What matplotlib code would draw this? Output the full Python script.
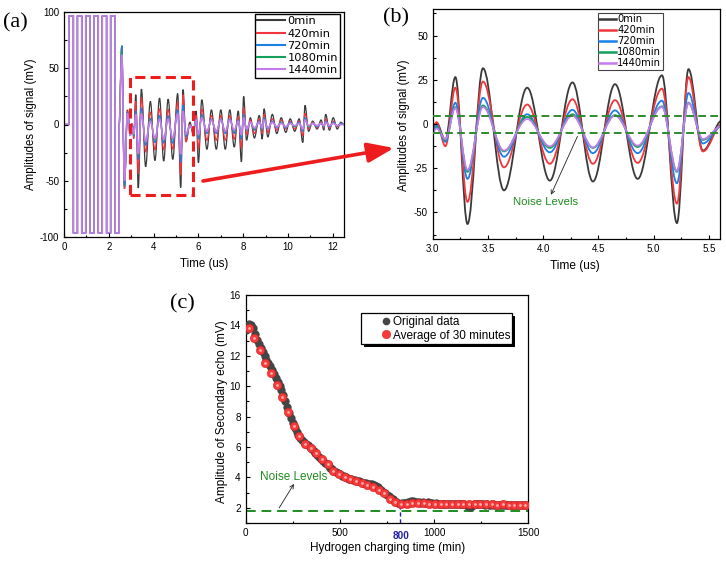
import matplotlib
matplotlib.use('Agg')
import matplotlib.pyplot as plt
from matplotlib.path import Path
from matplotlib.patches import PathPatch, Rectangle, FancyArrowPatch
from matplotlib.lines import Line2D
from matplotlib.ticker import MultipleLocator, FixedLocator
import numpy as np

plt.rcParams['font.family'] = ['Liberation Sans', 'DejaVu Sans']
plt.rcParams['axes.unicode_minus'] = False

# ---------------- data: panels (a) and (b) ----------------
series_names = ['0min', '420min', '720min', '1080min', '1440min']
series_colors = ['#3a3a3a', '#f2363b', '#1a80e6', '#14a05a', '#c47cec']
series_widths_a = [0.9, 0.9, 0.9, 0.9, 1.2]

# excitation square pulse (edges in us, levels in mV)
pulse_edges = [0.22, 0.42, 0.60, 0.79, 0.97, 1.16, 1.34, 1.53, 1.71, 1.90, 2.08, 2.28, 2.46]
pulse_levels = [96.5, -96.5, 96.5, -96.5, 96.5, -96.5, 96.5, -96.5, 96.5, -96.5, 96.5, -96.5]

# echo: times of the waveform extrema (us)
echo_t = [2.46, 2.58, 2.70, 2.83, 2.96,
          3.035, 3.115, 3.205, 3.315, 3.455, 3.645, 3.855, 4.06, 4.265, 4.45, 4.65,
          4.855, 5.075, 5.21, 5.315, 5.445,
          5.62, 5.78, 5.9, 6.0, 6.15, 6.38, 6.58, 6.8, 7.0, 7.2, 7.4, 7.6, 7.78, 7.92,
          8.02, 8.15, 8.32, 8.5, 8.72, 8.85, 8.93, 9.1, 9.3, 9.5, 9.7, 9.9, 10.1, 10.3,
          10.5, 10.66, 10.76, 10.92, 11.1, 11.3, 11.48, 11.6, 11.68, 11.85, 12.02, 12.2,
          12.36, 12.5]

# echo amplitudes at those extrema (mV)
echo_0min = [0, 70, -57, 13, -8,
             0.5, -9, 26.5, -56.5, 31.5, -37.5, 20.5, -32, 23.5, -32.5, 22.5, -31, 27.5, -56, 31, -15,
             2, -10, 12, -34, 22, -22, 13, -22, 13, -22, 13, -20, 12, -33, 25, -14, 6, -12, 8, -13,
             14, -11, 9, -8, 6, -7, 5, -6, 5, -16, 17, -6, 3, -4, 4, -5, 9, -5, 6, -4, 2, 0]
echo_420min = [0, 68, -57, 12, -9,
               1, -12.5, 20.5, -44, 24, -24.5, 11, -22.5, 14, -22.5, 13.5, -22, 20, -45, 26.5, -15.5,
               0, -8, 8, -22, 14, -14, 8, -14, 8, -14, 8, -13, 7, -21, 15, -9, 4, -8, 5, -8,
               9, -7, 5, -5, 4, -4, 3, -4, 3, -10, 10, -4, 2, -3, 2, -3, 5, -3, 3, -2, 1, 0]
echo_720min = [0, 70, -55, 11, -9,
               -1, -10, 12, -31, 14.8, -18.5, 5.5, -16, 8, -16.5, 7.7, -16.5, 13.2, -33.5, 17.5, -11,
               -1, -5, 5, -13, 9, -8, 5, -8, 5, -8, 5, -8, 4, -13, 9, -5, 2, -5, 3, -5,
               6, -4, 3, -3, 2, -3, 2, -2, 2, -6, 6, -2, 1, -2, 1, -2, 3, -2, 2, -1, 1, 0]
echo_1080min = [0, 65, -50, 10, -10,
                -2, -9, 9.5, -27, 10.5, -15.5, 4, -13.5, 5.5, -13.5, 5, -13, 10, -27, 12, -9,
                -1, -4, 4, -10, 7, -6, 4, -6, 4, -6, 4, -6, 3, -10, 7, -4, 2, -4, 2, -4,
                4, -3, 2, -2, 2, -2, 1, -2, 1, -4, 4, -2, 1, -1, 1, -1, 2, -1, 1, -1, 0, 0]
echo_1440min = [0, 62, -50, 10, -10,
                -2.5, -8.5, 9, -26, 9.6, -15, 2.8, -12.6, 4.7, -13.2, 4.7, -12.2, 9.6, -26.5, 11.8, -8.5,
                -1, -4, 4, -9, 6, -6, 4, -6, 4, -6, 4, -5, 3, -9, 6, -4, 2, -3, 2, -3,
                4, -3, 2, -2, 1, -2, 1, -1, 1, -4, 4, -1, 1, -1, 1, -1, 2, -1, 1, -1, 0, 0]
echo_values = [echo_0min, echo_420min, echo_720min, echo_1080min, echo_1440min]

# zoom window shown in (b)
zoom_t0, zoom_t1, zoom_v0, zoom_v1 = 2.95, 5.75, -63, 42
noise_upper, noise_lower = 4.3, -5.1

# ---------------- data: panel (c) ----------------
orig_time = np.arange(0, 1500, 10)
orig_amp = [13.70, 13.90, 14.10, 14.05, 13.80, 13.45, 13.05, 12.75, 12.50, 12.25,
            12.00, 11.75, 11.50, 11.30, 11.05, 10.80, 10.55, 10.30, 10.00, 9.75,
            9.45, 9.05, 8.65, 8.25, 7.90, 7.55, 7.25, 7.00, 6.80, 6.60,
            6.45, 6.32, 6.20, 6.10, 6.00, 5.88, 5.75, 5.60, 5.45, 5.32,
            5.20, 5.07, 4.95, 4.85, 4.75, 4.65, 4.55, 4.45, 4.36, 4.28,
            4.20, 4.12, 4.06, 4.01, 3.96, 3.92, 3.88, 3.85, 3.82, 3.78,
            3.74, 3.70, 3.66, 3.63, 3.60, 3.58, 3.56, 3.55, 3.50, 3.42,
            3.35, 3.26, 3.16, 3.06, 2.96, 2.86, 2.76, 2.66, 2.56, 2.46,
            2.36, 2.30, 2.28, 2.30, 2.30, 2.32, 2.35, 2.40, 2.46, 2.42,
            2.40, 2.38, 2.35, 2.33, 2.36, 2.32, 2.30, 2.35, 2.32, 2.30,
            2.28, 2.30, 2.27, 2.28, 2.26, 2.27, 2.28, 2.25, 2.27, 2.26,
            2.25, 2.28, 2.25, 2.24, 2.25, 2.23, 2.25, 2.20, 2.10, 2.04,
            2.14, 2.22, 2.25, 2.23, 2.22, 2.24, 2.22, 2.20, 2.22, 2.21,
            2.20, 2.22, 2.21, 2.19, 2.20, 2.21, 2.20, 2.19, 2.20, 2.19,
            2.19, 2.20, 2.18, 2.19, 2.18, 2.19, 2.18, 2.17, 2.18, 2.18]
avg_time = np.arange(15, 1500, 30)
avg_amp = [13.85, 13.2, 12.35, 11.55, 10.85, 10.05, 9.3, 8.3, 7.4, 6.72,
           6.22, 5.95, 5.6, 5.22, 4.85, 4.45, 4.22, 4.05, 3.9, 3.75,
           3.6, 3.5, 3.4, 3.2, 2.95, 2.6, 2.35, 2.28, 2.28, 2.3,
           2.32, 2.3, 2.28, 2.27, 2.28, 2.25, 2.27, 2.25, 2.25, 2.22,
           2.25, 2.24, 2.22, 2.22, 2.2, 2.22, 2.2, 2.2, 2.18, 2.18]
noise_level_c = 1.8
threshold_time = 820


def wave_path(et, ev, k=0.363):
    verts = [(0.0, 0.0), (pulse_edges[0], 0.0)]
    codes = [Path.MOVETO, Path.LINETO]
    for i, lev in enumerate(pulse_levels):
        verts += [(pulse_edges[i], lev), (pulse_edges[i + 1], lev)]
        codes += [Path.LINETO, Path.LINETO]
    verts.append((et[0], ev[0]))
    codes.append(Path.LINETO)
    for i in range(len(et) - 1):
        dt = et[i + 1] - et[i]
        verts += [(et[i] + k * dt, ev[i]), (et[i + 1] - k * dt, ev[i + 1]), (et[i + 1], ev[i + 1])]
        codes += [Path.CURVE4] * 3
    return Path(verts, codes)


def style_axes(ax, fs):
    for s in ax.spines.values():
        s.set_linewidth(0.9)
        s.set_color('black')
    ax.tick_params(which='both', direction='in', top=False, right=False, labelsize=fs, pad=3.5, width=0.8)
    ax.tick_params(which='major', length=3)
    ax.tick_params(which='minor', length=1.8)


W, H = 726, 561
fig = plt.figure(figsize=(W / 100, H / 100), dpi=100)


def px_axes(l, r, t, b):
    return fig.add_axes([l / W, 1 - b / H, (r - l) / W, (b - t) / H])


axA = px_axes(64, 344, 12, 237)
axB = px_axes(432.7, 720, 9, 239)
axC = px_axes(245.7, 528.3, 295, 523)

# ---- panel (a) ----
for name, col, lw, vals in zip(series_names, series_colors, series_widths_a, echo_values):
    axA.add_patch(PathPatch(wave_path(echo_t, vals), fill=False, edgecolor=col, lw=lw))
axA.set_xlim(0, 12.5)
axA.set_ylim(-100, 100)
axA.xaxis.set_major_locator(MultipleLocator(2))
axA.xaxis.set_minor_locator(MultipleLocator(1))
axA.yaxis.set_major_locator(MultipleLocator(50))
axA.yaxis.set_minor_locator(MultipleLocator(25))
style_axes(axA, 7)
axA.set_xlabel('Time (us)', fontsize=8.3)
axA.set_ylabel('Amplitudes of signal (mV)', fontsize=8.3)
axA.xaxis.set_label_coords(0.5, -0.093)
axA.yaxis.set_label_coords(-0.095, 0.5)
axA.add_patch(Rectangle((zoom_t0, zoom_v0), zoom_t1 - zoom_t0, zoom_v1 - zoom_v0, fill=False,
                        ec='#ee1c1c', lw=2.2, ls=(0, (3.3, 1.7)), zorder=5))
handles = [Line2D([], [], color=c, lw=1.5) for c in series_colors]
legA = axA.legend(handles, series_names, loc='upper right', bbox_to_anchor=(0.986, 0.991),
                  borderaxespad=0, prop={'family': 'DejaVu Sans', 'size': 8.2},
                  handlelength=2.45, handletextpad=0.2, borderpad=0.2, labelspacing=0.2,
                  fancybox=False, edgecolor='black', framealpha=1)
legA.get_frame().set_linewidth(1.0)

# ---- panel (b) ----
for name, col, vals in zip(series_names, series_colors, echo_values):
    axB.add_patch(PathPatch(wave_path(echo_t, vals), fill=False, edgecolor=col, lw=1.3))
axB.set_xlim(3.0, 5.6)
axB.set_ylim(-65, 65)
axB.xaxis.set_major_locator(MultipleLocator(0.5))
axB.xaxis.set_minor_locator(MultipleLocator(0.25))
axB.yaxis.set_major_locator(MultipleLocator(25))
axB.yaxis.set_minor_locator(MultipleLocator(12.5))
axB.xaxis.set_major_formatter(plt.FormatStrFormatter('%.1f'))
style_axes(axB, 7)
axB.set_xlabel('Time (us)', fontsize=8.6)
axB.set_ylabel('Amplitudes of signal (mV)', fontsize=8.3)
axB.xaxis.set_label_coords(0.496, -0.093)
axB.yaxis.set_label_coords(-0.079, 0.496)
for yv in (noise_upper, noise_lower):
    axB.axhline(yv, color='#2e8b2e', lw=1.4, ls=(0, (4, 2.2)), zorder=6)
axB.text(4.02, -44.3, 'Noise Levels', color='#1e8c1e', fontsize=8.2, ha='center', va='center')
axB.annotate('', xy=(4.07, -40), xytext=(4.31, -7),
             arrowprops=dict(arrowstyle='->', color='#222222', lw=0.6, shrinkA=0, shrinkB=0,
                             mutation_scale=7))
handles = [Line2D([], [], color=c, lw=1.8) for c in series_colors]
legB = axB.legend(handles, series_names, loc='upper left',
                  bbox_to_anchor=((597.7 - 432.7) / 287.3, (239 - 12.7) / 230),
                  borderaxespad=0, prop={'family': 'DejaVu Sans', 'size': 7.2},
                  handlelength=1.67, handletextpad=0.12, borderpad=0.15, labelspacing=0.1,
                  fancybox=False, edgecolor='#444444', framealpha=1)
legB.get_frame().set_linewidth(0.8)

# ---- panel (c) ----
axC.plot(orig_time, orig_amp, 'o', color='#454545', ms=6.0, mew=0, zorder=3)
axC.plot(avg_time, avg_amp, 'o', color='#f53a3a', ms=6.0, mew=0.4, mec='#d82020', zorder=4)
axC.plot(avg_time, avg_amp, 'o', color='#ffb0b0', ms=2.0, mew=0, zorder=5)
axC.axhline(noise_level_c, color='#1e8c1e', lw=1.4, ls=(0, (5, 3)), zorder=2)
axC.plot([threshold_time, threshold_time], [1, 2.4], color='#1f1fa8', lw=1.0, ls=(0, (3, 2)), zorder=2)
axC.set_xlim(0, 1500)
axC.set_ylim(1, 16)
axC.xaxis.set_major_locator(FixedLocator([0, 500, 1000, 1500]))
axC.xaxis.set_minor_locator(FixedLocator([250, 750, 1250]))
axC.yaxis.set_major_locator(MultipleLocator(2))
axC.yaxis.set_minor_locator(MultipleLocator(1))
style_axes(axC, 7.2)
axC.text(825, -0.035, '800', transform=axC.get_xaxis_transform(), ha='center', va='top',
         fontsize=7.2, color='#1f1fa8', fontweight='bold')
axC.set_xlabel('Hydrogen charging time (min)', fontsize=8.5)
axC.set_ylabel('Amplitude of Secondary echo (mV)', fontsize=8.5)
axC.xaxis.set_label_coords(0.501, -0.083)
axC.yaxis.set_label_coords(-0.061, 0.489)
axC.text(253, 4.05, 'Noise Levels', color='#1e8c1e', fontsize=8.5, ha='center', va='center')
axC.annotate('', xy=(256, 3.57), xytext=(178, 2.0),
             arrowprops=dict(arrowstyle='->', color='#222222', lw=0.6, shrinkA=0, shrinkB=0,
                             mutation_scale=7))
# legend box with shadow
bx0, bx1 = (360.7 - 245.7) / 282.6, (511.7 - 245.7) / 282.6
by0, by1 = (523 - 344) / 228, (523 - 312.7) / 228
sx, sy = 3 / 282.6, 3 / 228
axC.add_patch(Rectangle((bx0 + sx, by0 - sy), bx1 - bx0, by1 - by0, transform=axC.transAxes,
                        fc='black', ec='black', lw=0, zorder=8))
axC.add_patch(Rectangle((bx0, by0), bx1 - bx0, by1 - by0, transform=axC.transAxes,
                        fc='white', ec='black', lw=0.9, zorder=9))
hC = [Line2D([], [], ls='none', marker='o', color='#454545', ms=5.5, mew=0),
      Line2D([], [], ls='none', marker='o', color='#f53a3a', ms=6.0, mew=0.4, mec='#d82020')]
legC = axC.legend(hC, ['Original data', 'Average of 30 minutes'], loc='center left',
                  bbox_to_anchor=((382.5 - 245.7) / 282.6, (523 - 329) / 228), frameon=False,
                  borderpad=0, borderaxespad=0, handlelength=0.6, handletextpad=0.25,
                  labelspacing=0.1, fontsize=8.5)
legC.set_zorder(10)

# ---- panel labels ----
for txt, x, y in [('(a)', 3, 23), ('(b)', 383, 18), ('(c)', 170, 304)]:
    fig.text(x / W, 1 - y / H, txt, family=['Liberation Serif', 'DejaVu Serif'], fontsize=16,
             ha='left', va='center')

# ---- connecting arrow (a) -> (b) ----
arr = FancyArrowPatch((203 / W, 1 - 181 / H), (394 / W, 1 - 148 / H), transform=fig.transFigure,
                      arrowstyle='-|>,head_length=1.6,head_width=0.6', mutation_scale=10,
                      color='#ee1c1c', lw=2.6, shrinkA=0, shrinkB=0, zorder=20)
fig.patches.append(arr)

fig.savefig('out.png', dpi=100)
